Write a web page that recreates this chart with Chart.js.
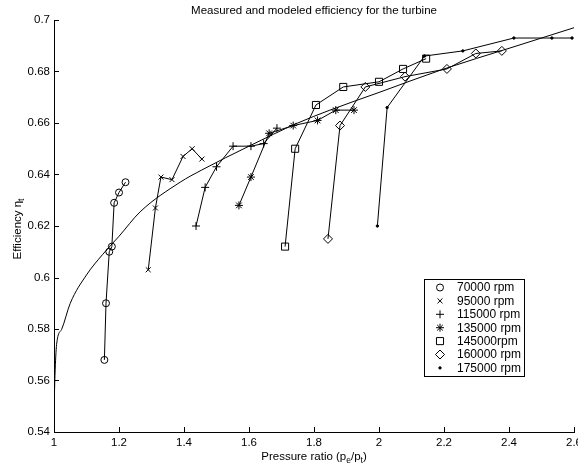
<!DOCTYPE html>
<html>
<head>
<meta charset="utf-8">
<script src="https://cdn.jsdelivr.net/npm/chart.js@4.4.1/dist/chart.umd.min.js"></script>
<style>
  html, body { margin: 0; padding: 0; background: #fff; }
  canvas { display: block; }
</style>
</head>
<body>
<canvas id="chartTurbin" width="578" height="469"></canvas>
<script>
// tick labels
const xTicks = [1, 1.2, 1.4, 1.6, 1.8, 2, 2.2, 2.4, 2.6];
const yTicks = [0.54, 0.56, 0.58, 0.6, 0.62, 0.64, 0.66, 0.68, 0.7];

// measured series (pressure ratio, efficiency)
const seriesLabels = ["70000 rpm", "95000 rpm", "115000 rpm", "135000 rpm", "145000rpm", "160000 rpm", "175000 rpm"];

const pr70  = [1.155, 1.160, 1.170, 1.178, 1.185, 1.200, 1.220];
const eff70 = [0.568, 0.590, 0.610, 0.612, 0.629, 0.633, 0.637];

const pr95  = [1.290, 1.312, 1.329, 1.363, 1.397, 1.425, 1.455];
const eff95 = [0.603, 0.627, 0.639, 0.638, 0.647, 0.650, 0.646];

const pr115  = [1.437, 1.465, 1.500, 1.551, 1.606, 1.645, 1.686];
const eff115 = [0.620, 0.635, 0.643, 0.651, 0.651, 0.652, 0.658];

const pr135  = [1.569, 1.606, 1.662, 1.736, 1.811, 1.867, 1.923];
const eff135 = [0.628, 0.639, 0.656, 0.659, 0.661, 0.665, 0.665];

const pr145  = [1.711, 1.742, 1.806, 1.890, 2.000, 2.074, 2.145];
const eff145 = [0.612, 0.650, 0.667, 0.674, 0.676, 0.681, 0.685];

const pr160  = [1.843, 1.880, 1.958, 2.080, 2.209, 2.298, 2.378];
const eff160 = [0.615, 0.659, 0.674, 0.678, 0.681, 0.687, 0.688];

const pr175  = [1.995, 2.025, 2.140, 2.258, 2.415, 2.532, 2.594];
const eff175 = [0.620, 0.666, 0.686, 0.688, 0.693, 0.693, 0.693];

// model curve
const prModel  = [1.000, 1.003, 1.008, 1.024, 1.05, 1.10, 1.15, 1.20, 1.265, 1.388, 1.454, 1.60, 1.75, 1.849, 2.003, 2.20, 2.40, 2.60];
const effModel = [0.548, 0.562, 0.574, 0.580, 0.590, 0.601, 0.609, 0.616, 0.6255, 0.637, 0.6417, 0.651, 0.660, 0.665, 0.672, 0.681, 0.689, 0.697];

const FONT = '"Liberation Sans", Arial, Helvetica, sans-serif';
const pts = (xs, ys) => xs.map((x, i) => ({ x, y: ys[i] }));

const markers = [
  { pointStyle: "circle",  radius: 3.5, fill: false },
  { pointStyle: "crossRot", radius: 3.5, fill: false },
  { pointStyle: "cross",   radius: 4,   fill: false },
  { pointStyle: "star",    radius: 4,   fill: false },
  { pointStyle: "rect",    radius: 5,   fill: false },
  { pointStyle: "rectRot", radius: 4.5, fill: false },
  { pointStyle: "circle",  radius: 1.2, fill: true }
];

const measured = [[pr70, eff70], [pr95, eff95], [pr115, eff115], [pr135, eff135], [pr145, eff145], [pr160, eff160], [pr175, eff175]];

const datasets = measured.map(([xs, ys], i) => ({
  label: seriesLabels[i],
  data: pts(xs, ys),
  showLine: true,
  borderColor: "#000",
  borderWidth: 1,
  pointStyle: markers[i].pointStyle,
  pointRadius: markers[i].radius,
  pointHoverRadius: markers[i].radius,
  pointBorderColor: "#000",
  pointBorderWidth: 1,
  pointBackgroundColor: markers[i].fill ? "#000" : "rgba(0,0,0,0)",
  tension: 0
}));

datasets.push({
  label: "model",
  data: pts(prModel, effModel),
  showLine: true,
  borderColor: "#000",
  borderWidth: 1,
  pointRadius: 0,
  tension: 0.3,
  cubicInterpolationMode: "monotone"
});

// MATLAB-ish axes: inward ticks, titles with subscripts, boxed legend
const matlabLook = {
  id: "matlabLook",
  afterDraw(chart) {
    const ctx = chart.ctx;
    const xs = chart.scales.x, ys = chart.scales.y;
    const a = chart.chartArea;
    ctx.save();
    ctx.strokeStyle = "#000";
    ctx.lineWidth = 1;
    ctx.beginPath();
    xTicks.forEach(v => {
      const px = Math.round(xs.getPixelForValue(v)) + 0.5;
      ctx.moveTo(px, a.bottom); ctx.lineTo(px, a.bottom - 5);
    });
    yTicks.forEach(v => {
      const py = Math.round(ys.getPixelForValue(v)) + 0.5;
      ctx.moveTo(a.left, py); ctx.lineTo(a.left + 5, py);
    });
    ctx.stroke();

    ctx.fillStyle = "#000";
    ctx.textBaseline = "alphabetic";

    // title
    ctx.font = "11.5px " + FONT;
    ctx.textAlign = "center";
    ctx.fillText("Measured and modeled efficiency for the turbine", (a.left + a.right) / 2, 14);

    // x title: Pressure ratio (p_e/p_t)
    const parts = [["Pressure ratio (p", 0], ["e", 1], ["/p", 0], ["t", 1], [")", 0]];
    drawRich(ctx, parts, (a.left + a.right) / 2, 460);

    // y title: Efficiency eta_t
    ctx.save();
    ctx.translate(21, (a.top + a.bottom) / 2 + 3);
    ctx.rotate(-Math.PI / 2);
    drawRich(ctx, [["Efficiency η", 0], ["t", 1]], 0, 0);
    ctx.restore();

    // legend
    const lx = 424, ly = 279, lw = 100, lh = 97, row = 13.4;
    ctx.fillStyle = "#fff";
    ctx.fillRect(lx, ly, lw, lh);
    ctx.strokeRect(lx + 0.5, ly + 0.5, lw, lh);
    ctx.font = "12px " + FONT;
    ctx.textAlign = "left";
    ctx.textBaseline = "middle";
    seriesLabels.forEach((lab, i) => {
      const cy = ly + 8.5 + i * row;
      ctx.fillStyle = markers[i].fill ? "#000" : "rgba(0,0,0,0)";
      ctx.strokeStyle = "#000";
      ctx.lineWidth = 1;
      Chart.helpers.drawPoint(ctx, { pointStyle: markers[i].pointStyle, radius: markers[i].radius, rotation: 0, borderWidth: 1 }, lx + 16, cy);
      ctx.fillStyle = "#000";
      ctx.fillText(lab, lx + 33, cy + 0.5);
    });
    ctx.restore();
  }
};

function drawRich(ctx, parts, cx, by) {
  const big = "11.5px " + FONT, small = "8.5px " + FONT;
  let w = 0;
  parts.forEach(([t, sub]) => { ctx.font = sub ? small : big; w += ctx.measureText(t).width; });
  let x = cx - w / 2;
  ctx.textAlign = "left";
  ctx.textBaseline = "alphabetic";
  ctx.fillStyle = "#000";
  parts.forEach(([t, sub]) => {
    ctx.font = sub ? small : big;
    ctx.fillText(t, x, by + (sub ? 3 : 0));
    x += ctx.measureText(t).width;
  });
}

Chart.defaults.font.family = FONT;
Chart.defaults.font.size = 11.5;
Chart.defaults.color = "#000";

new Chart(document.getElementById("chartTurbin").getContext("2d"), {
  type: "scatter",
  data: { datasets },
  options: {
    responsive: false,
    animation: false,
    devicePixelRatio: 1,
    layout: { autoPadding: false, padding: { left: 0, right: 4, top: 20, bottom: 0 } },
    plugins: { legend: { display: false }, tooltip: { enabled: false }, title: { display: false } },
    scales: {
      x: {
        type: "linear", min: 1, max: 2.6,
        afterBuildTicks: s => { s.ticks = xTicks.map(v => ({ value: v })); },
        afterFit: s => { s.height = 37; s.paddingLeft = 0; s.paddingRight = 0; },
        grid: { display: false, drawTicks: false },
        border: { display: true, color: "#000", width: 1 },
        ticks: { padding: 4, maxRotation: 0, autoSkip: false, callback: v => String(+v.toFixed(2)) }
      },
      y: {
        type: "linear", min: 0.54, max: 0.7,
        afterBuildTicks: s => { s.ticks = yTicks.map(v => ({ value: v })); },
        afterFit: s => { s.width = 54; s.paddingTop = 0; s.paddingBottom = 0; },
        grid: { display: false, drawTicks: false },
        border: { display: true, color: "#000", width: 1 },
        ticks: { padding: 4, autoSkip: false, callback: v => String(+v.toFixed(2)) }
      }
    }
  },
  plugins: [matlabLook]
});
</script>
</body>
</html>
